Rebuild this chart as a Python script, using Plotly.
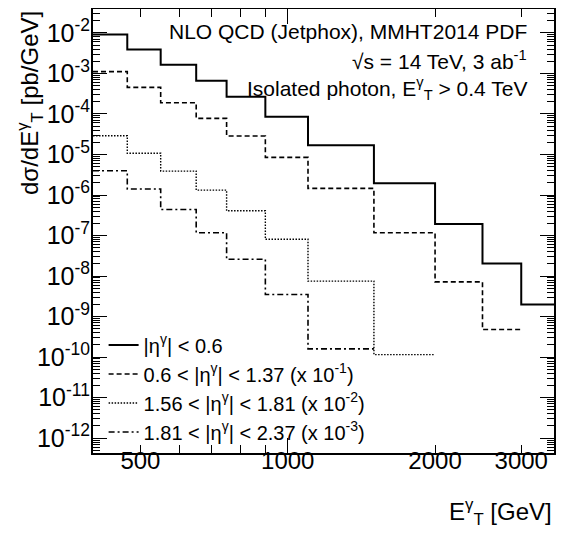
import numpy as np
import plotly.graph_objects as go

# ---- data ----
edges = [400, 470, 550, 650, 750, 900, 1100, 1500, 2000, 2500, 3000, 3500]
solid = [9.2e-3, 3.9e-3, 1.65e-3, 6.6e-4, 2.67e-4, 8.6e-5, 1.7e-5, 1.94e-6, 1.92e-7, 2.04e-8, 2.0e-9]
dashed = [1.11e-3, 4.55e-4, 1.9e-4, 7.8e-5, 2.86e-5, 8.5e-6, 1.46e-6, 1.17e-7, 7.2e-9, 4.8e-10]
dotted = [2.9e-5, 1.07e-5, 3.9e-6, 1.32e-6, 4.1e-7, 8.1e-8, 7.5e-9, 1.15e-10]
dashdot = [3.96e-6, 1.41e-6, 4.4e-7, 1.17e-7, 2.6e-8, 3.5e-9, 1.6e-10]

names = ["|η<sup>γ</sup>| < 0.6",
         "0.6 < |η<sup>γ</sup>| < 1.37 (x 10<sup>-1</sup>)",
         "1.56 < |η<sup>γ</sup>| < 1.81 (x 10<sup>-2</sup>)",
         "1.81 < |η<sup>γ</sup>| < 2.37 (x 10<sup>-3</sup>)"]
series = [solid, dashed, dotted, dashdot]
dashes = ["solid", "5px,3px", "1.5px,1.5px", "6px,3px,2px,3px"]
widths = [2, 1.6, 1.4, 1.6]

x_major = [500, 1000, 2000, 3000]
x_labels = ["500", "1000", "2000", "3000"]
y_exps = list(range(-2, -13, -1))

FONT = "Liberation Sans, Arial, Helvetica, sans-serif"

fig = go.Figure()
for nm, vals, d, w in zip(names, series, dashes, widths):
    xs = edges[:len(vals) + 1]
    ys = vals + [vals[-1]]
    fig.add_trace(go.Scatter(x=xs, y=ys, mode="lines", line_shape="hv",
                             line=dict(color="black", width=w, dash=d),
                             name=nm, hoverinfo="skip"))

# dummy trace for long tick overlay
fig.add_trace(go.Scatter(x=[], y=[], xaxis="x2", yaxis="y", showlegend=False, hoverinfo="skip"))

xr = [np.log10(400), np.log10(3500)]
yr = [np.log10(4.3e-13), np.log10(0.039)]

yminor = [m * 10.0 ** k for k in range(-13, -1) for m in range(2, 10)]
yminor = [v for v in yminor if 4.3e-13 < v < 0.039]

# page body adds an 8px offset; figure sized so it fits the window
W, H = 548, 520
PL, PT, PR, PB = 85, 1, 546, 445   # plot area in figure pixels
pw, ph = PR - PL, PB - PT

fig.update_layout(
    width=W, height=H,
    margin=dict(l=PL, r=W - PR, t=PT, b=H - PB, autoexpand=False),
    paper_bgcolor="white", plot_bgcolor="white",
    font=dict(family=FONT, color="black", size=24),
    showlegend=True,
    legend=dict(x=0.023, y=0.287, xanchor="left", yanchor="top",
                bgcolor="rgba(0,0,0,0)", font=dict(size=20), tracegroupgap=0,
                itemwidth=30),
    xaxis=dict(type="log", range=xr, showgrid=False, zeroline=False, automargin=False,
               showline=True, linecolor="black", linewidth=2, mirror="ticks",
               ticks="inside", ticklen=8, tickwidth=1, tickcolor="black",
               tickmode="array", tickvals=x_major, ticktext=x_labels,
               tickfont=dict(size=24), ticklabelstandoff=-15,
               minor=dict(tickmode="array", tickvals=[600, 700, 800, 900],
                          ticks="inside", ticklen=8, tickwidth=1, tickcolor="black",
                          showgrid=False)),
    xaxis2=dict(type="log", range=xr, overlaying="x", anchor="y", side="bottom",
                showgrid=False, zeroline=False, showline=False, mirror="ticks",
                automargin=False,
                ticks="inside", ticklen=15, tickwidth=1, tickcolor="black",
                tickmode="array", tickvals=[1000], showticklabels=False),
    yaxis=dict(type="log", range=yr, showgrid=False, zeroline=False, automargin=False,
               showline=True, linecolor="black", linewidth=2, mirror="ticks",
               ticks="inside", ticklen=14, tickwidth=1, tickcolor="black",
               tickmode="array", tickvals=[10.0 ** e for e in y_exps],
               ticktext=["10<sup>%d</sup>" % e for e in y_exps],
               tickfont=dict(size=25), ticklabelstandoff=-4,
               minor=dict(tickmode="array", tickvals=yminor,
                          ticks="inside", ticklen=7, tickwidth=1, tickcolor="black",
                          showgrid=False)),
)

ann = dict(xref="paper", yref="paper", showarrow=False, font=dict(size=21, family=FONT))
fig.add_annotation(x=0.946, y=0.950, xanchor="right", yanchor="middle",
                   text="NLO QCD (Jetphox), MMHT2014 PDF", **ann)
fig.add_annotation(x=0.946, y=0.885, xanchor="right", yanchor="middle",
                   text="√s = 14 TeV, 3 ab<sup>-1</sup>", **ann)
fig.add_annotation(x=0.946, y=0.822, xanchor="right", yanchor="middle",
                   text="Isolated photon, E<sup>γ</sup><sub>T</sub> > 0.4 TeV", **ann)
# axis titles
fig.add_annotation(x=-63 / pw, y=1.0, xanchor="center", yanchor="top",
                   textangle=-90, text="dσ/dE<sup>γ</sup><sub>T</sub> [pb/GeV]",
                   xref="paper", yref="paper", showarrow=False,
                   font=dict(size=24, family=FONT))
fig.add_annotation(x=1.0, y=-59 / ph, xanchor="right", yanchor="middle",
                   text="E<sup>γ</sup><sub>T</sub> [GeV]",
                   xref="paper", yref="paper", showarrow=False,
                   font=dict(size=24, family=FONT))

fig.write_html("out.html")
